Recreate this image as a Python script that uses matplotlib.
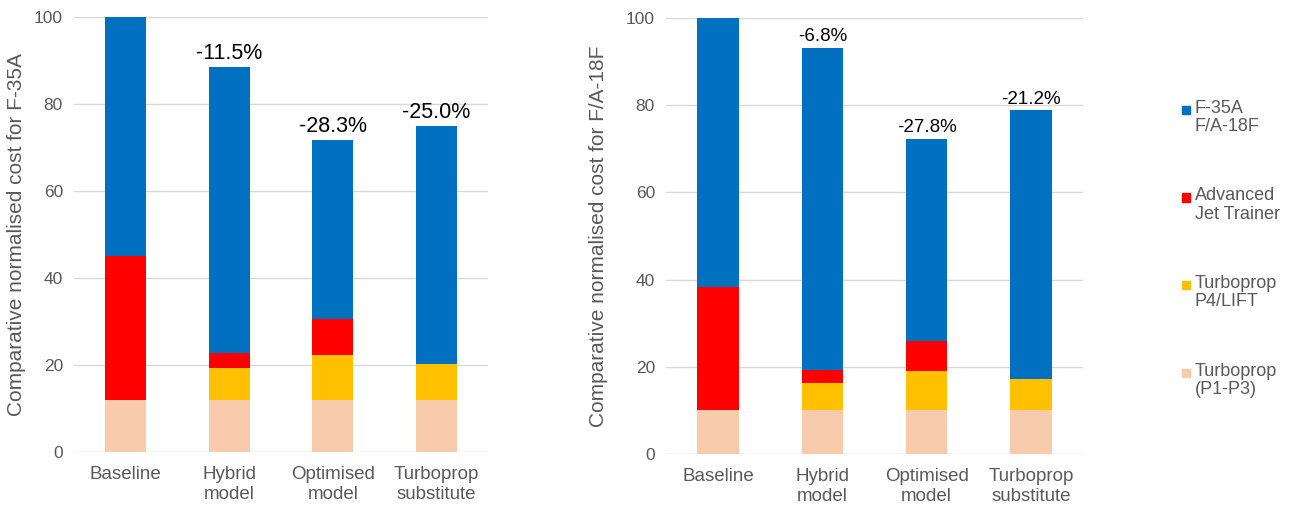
import numpy as np
import matplotlib.pyplot as plt
from matplotlib.patches import Rectangle

plt.rcParams['font.family'] = ['Liberation Sans', 'DejaVu Sans']

categories = ['Baseline', 'Hybrid\nmodel', 'Optimised\nmodel', 'Turboprop\nsubstitute']
series_names = ['Turboprop\n(P1-P3)', 'Turboprop\nP4/LIFT', 'Advanced\nJet Trainer', 'F-35A\nF/A-18F']
colors = ['#F8CBAD', '#FFC000', '#FF0000', '#0070C0']

# stacked segment heights, bottom to top
f35_p1p3 = [12.0, 12.0, 12.0, 12.0]
f35_p4lift = [0.0, 7.4, 10.2, 8.2]
f35_ajt = [33.1, 3.4, 8.3, 0.0]
f35_fighter = [54.9, 65.7, 41.2, 54.8]
f35_changes = ['', '-11.5%', '-28.3%', '-25.0%']

fa18_p1p3 = [10.2, 10.2, 10.2, 10.2]
fa18_p4lift = [0.0, 6.2, 8.8, 6.9]
fa18_ajt = [28.1, 2.9, 6.9, 0.0]
fa18_fighter = [61.7, 73.9, 46.3, 61.7]
fa18_changes = ['', '-6.8%', '-27.8%', '-21.2%']

fig = plt.figure(figsize=(12.89, 5.09), dpi=100)
ax1 = fig.add_axes([0.0574, 0.112, 0.3212, 0.8546])
ax2 = fig.add_axes([0.5167, 0.108, 0.3235, 0.8566])

grey = '#595959'


def draw(ax, segs, changes, ylabel, lab_x, pct_size):
    x = np.arange(len(categories))
    bottom = np.zeros(len(categories))
    for vals, c in zip(segs, colors):
        ax.bar(x, vals, width=0.4, bottom=bottom, color=c, zorder=3)
        bottom = bottom + np.array(vals)
    for xi, top, txt in zip(x, bottom, changes):
        if txt:
            ax.annotate(txt, (xi, top), xytext=(0, 2), textcoords='offset points',
                        ha='center', va='bottom', fontsize=pct_size, color='black')
    ax.set_xlim(-0.5, len(categories) - 0.5)
    ax.set_ylim(0, 100)
    ax.set_yticks(range(0, 101, 20))
    ax.set_xticks(x)
    ax.set_xticklabels(categories, fontsize=13.5, color=grey, linespacing=1.25)
    ax.tick_params(axis='x', length=0, pad=10)
    ax.tick_params(axis='y', length=0, pad=8, labelsize=12.5, labelcolor=grey)
    ax.grid(axis='y', color='#D9D9D9', linewidth=1, zorder=0)
    for s in ax.spines.values():
        s.set_visible(False)
    ax.set_ylabel(ylabel, fontsize=15, color=grey)
    ax.yaxis.set_label_coords(lab_x, 0.5)


draw(ax1, [f35_p1p3, f35_p4lift, f35_ajt, f35_fighter], f35_changes,
     'Comparative normalised cost for F-35A', -0.116, 15.5)
draw(ax2, [fa18_p1p3, fa18_p4lift, fa18_ajt, fa18_fighter], fa18_changes,
     'Comparative normalised cost for F/A-18F', -0.139, 13.5)

# legend, top entry first
leg_y = [1 - 110 / 509, 1 - 197.5 / 509, 1 - 285 / 509, 1 - 372.5 / 509]
for name, c, y in zip(series_names[::-1], colors[::-1], leg_y):
    fig.patches.append(Rectangle((1182 / 1289, y - 4 / 509), 8 / 1289, 8 / 509,
                                 transform=fig.transFigure, color=c))
    fig.text(1195 / 1289, y + 10 / 509, name, fontsize=13, color=grey,
             va='top', ha='left', linespacing=1.1)

fig.savefig('out.png', dpi=100)
